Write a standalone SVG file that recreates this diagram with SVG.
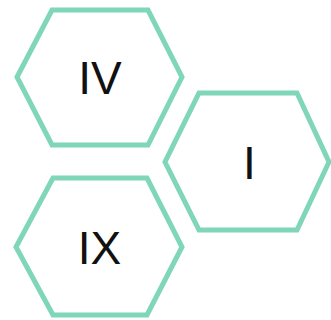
<svg xmlns="http://www.w3.org/2000/svg" width="331" height="320" viewBox="0 0 331 320">
<style>
.hex{fill:#ffffff;stroke:#7fd6b9;stroke-width:5;stroke-linejoin:miter}
.lbl{font-family:"Liberation Sans",Arial,sans-serif;font-size:46px;fill:#111111;text-anchor:middle}
</style>
<rect width="331" height="320" fill="#ffffff"/>
<g id="connectors"></g>
<g id="node-IV">
<polygon class="hex" points="52,10 148,10 182,77 148,145 52,145 17,77"/>
<text class="lbl" x="100" y="93.5">IV</text>
</g>
<g id="node-I">
<polygon class="hex" points="199,93 297,93 329,162 297,230 199,230 165,162"/>
<text class="lbl" x="249.3" y="178.5">I</text>
</g>
<g id="node-IX">
<polygon class="hex" points="53,178 147,178 182,247 147,315 53,315 16,247"/>
<text class="lbl" x="99.5" y="263.5">IX</text>
</g>
</svg>
